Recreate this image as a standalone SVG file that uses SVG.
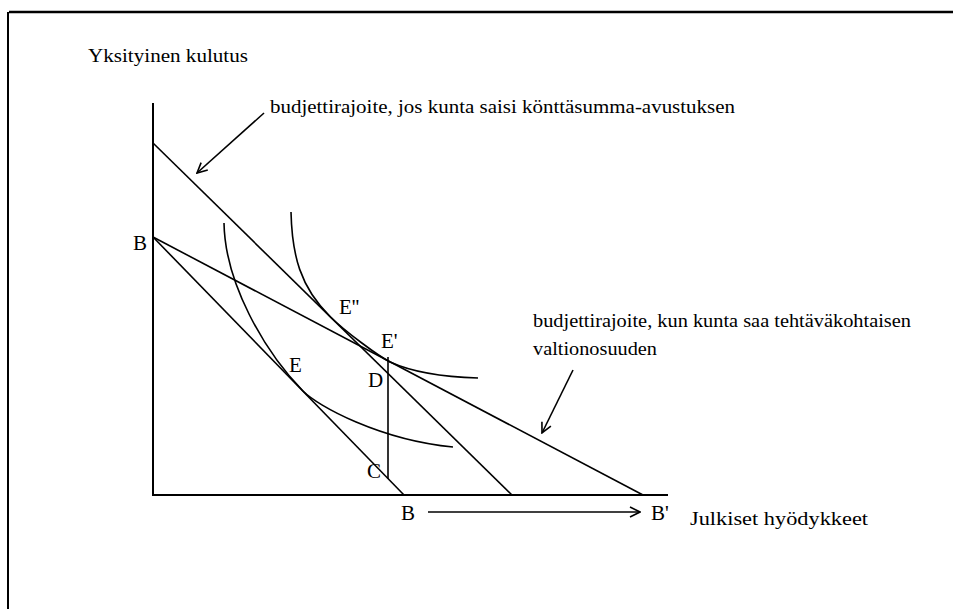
<svg xmlns="http://www.w3.org/2000/svg" width="953" height="609" viewBox="0 0 953 609">
<style>
.ln{stroke:#000;stroke-width:1.6;fill:none}
.ax{stroke:#000;stroke-width:2;fill:none}
.t{font-family:"Liberation Serif","DejaVu Serif",serif;font-size:19px;fill:#000}
.l{font-family:"Liberation Serif","DejaVu Serif",serif;font-size:21px;fill:#000}
</style>
<defs>
<marker id="open" viewBox="0 0 12 12" refX="11" refY="6" markerWidth="12" markerHeight="12" markerUnits="userSpaceOnUse" orient="auto">
<path d="M1,1 L11,6 L1,11" fill="none" stroke="#000" stroke-width="1.6"/>
</marker>
</defs>
<rect width="953" height="609" fill="#fff"/>
<g id="frame">
<line x1="9" y1="12" x2="953" y2="12" stroke="#000" stroke-width="2.5"/>
<line x1="8" y1="12" x2="8" y2="609" stroke="#000" stroke-width="2"/>
</g>
<g id="axes">
<line class="ax" x1="153" y1="103" x2="153" y2="496"/>
<line class="ax" x1="152" y1="495" x2="668" y2="495"/>
<text class="t" x="88" y="62" textLength="160" lengthAdjust="spacingAndGlyphs">Yksityinen kulutus</text>
<text class="t" x="690" y="525" textLength="178" lengthAdjust="spacingAndGlyphs">Julkiset hyödykkeet</text>
</g>
<g id="connectors">
<line class="ln" x1="153" y1="143" x2="512" y2="495"/>
<line class="ln" x1="153" y1="237" x2="404" y2="495"/>
<line class="ln" x1="153" y1="237" x2="643" y2="495"/>
<line class="ln" x1="388" y1="357" x2="388" y2="479"/>
<path class="ln" d="M224,223 C225,283 264,351 303,391 C317.6,406 380,440 453,447"/>
<path class="ln" d="M291,212 C292,255 300,287 330.5,317 C345.8,332 378,355.7 390,362 C412,372 445,377 478,378"/>
<line class="ln" x1="428" y1="512" x2="640" y2="512" marker-end="url(#open)"/>
<line class="ln" x1="264" y1="113" x2="197" y2="173" marker-end="url(#open)"/>
<line class="ln" x1="573" y1="370" x2="542" y2="433" marker-end="url(#open)"/>
</g>
<g id="labels">
<text class="l" x="133" y="250">B</text>
<text class="l" x="401" y="520">B</text>
<text class="l" x="651" y="520">B'</text>
<text class="l" x="289" y="372">E</text>
<text class="l" x="339" y="314">E''</text>
<text class="l" x="381" y="348">E'</text>
<text class="l" x="368" y="387">D</text>
<text class="l" x="367" y="478">C</text>
</g>
<g id="note-lump">
<text class="t" x="270" y="113" textLength="465" lengthAdjust="spacingAndGlyphs">budjettirajoite, jos  kunta saisi könttäsumma-avustuksen</text>
</g>
<g id="note-specific">
<text class="t" x="533" y="327" textLength="378" lengthAdjust="spacingAndGlyphs">budjettirajoite, kun kunta saa tehtäväkohtaisen</text>
<text class="t" x="533" y="355" textLength="124" lengthAdjust="spacingAndGlyphs">valtionosuuden</text>
</g>
</svg>
